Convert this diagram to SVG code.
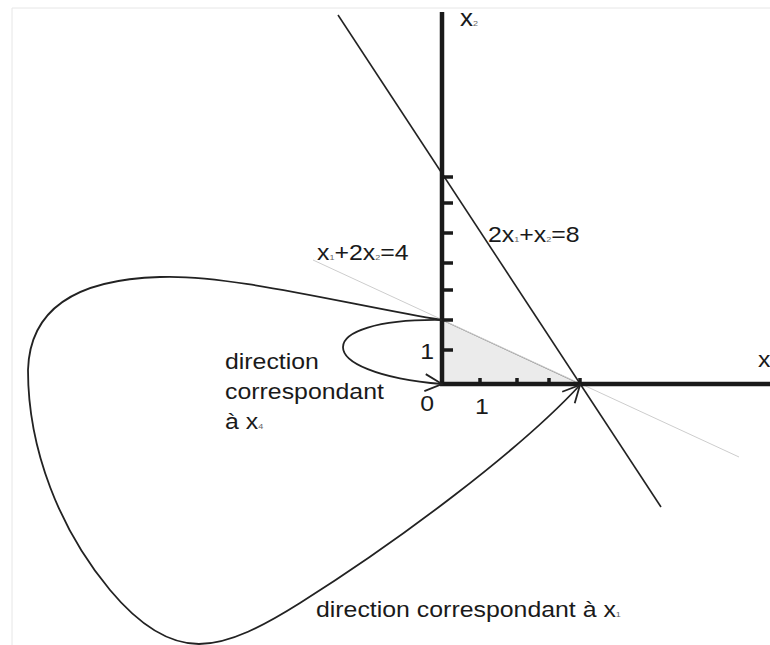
<svg xmlns="http://www.w3.org/2000/svg" width="770" height="645" viewBox="0 0 770 645">
<style>
.t{font-family:"Liberation Sans",Arial,sans-serif;font-size:22px;fill:#1a1a1a}
.s{font-size:8px;fill:#666}
.axis{stroke:#1a1a1a;stroke-width:4.5;fill:none}
.tick{stroke:#1a1a1a;stroke-width:3.5;fill:none}
.curve{fill:none;stroke:#222;stroke-width:1.8}
.cons{fill:none;stroke:#222;stroke-width:1.6}
.thin{fill:none;stroke:#cdcdcd;stroke-width:1}
</style>
<defs>
<marker id="arr" markerUnits="userSpaceOnUse" markerWidth="30" markerHeight="30" refX="0" refY="0" orient="auto" overflow="visible">
<path d="M-17,-8.5 L0,0 L-17,8.5" fill="none" stroke="#222" stroke-width="1.8"/>
</marker>
</defs>
<rect width="770" height="645" fill="#fff"/>
<path d="M12,645 V8 H770" fill="none" stroke="#e6e6e6" stroke-width="1"/>

<g id="feasible-region">
<polygon points="442,320 580,384 442,384" fill="#ebebeb"/>
<line x1="442" y1="320" x2="580" y2="384" stroke="#8a8a8a" stroke-width="1"/>
</g>

<g id="constraint-lines">
<line class="thin" x1="313" y1="260" x2="739" y2="457"/>
<line class="cons" x1="338" y1="15" x2="661" y2="507"/>
</g>

<g id="axes">
<line class="axis" x1="442" y1="12" x2="442" y2="386"/>
<line class="axis" x1="440" y1="384" x2="770" y2="384"/>
<path class="tick" d="M442,350 H453 M442,320 H453 M442,290 H453 M442,263 H453 M442,233 H453 M442,203 H453 M442,177 H453"/>
<path class="tick" d="M480,384 V378 M517,384 V378 M549,384 V378 M580,384 V378"/>
</g>

<g id="connectors">
<path class="curve" d="M442,320 C310,318 310,373 442,384" marker-end="url(#arr)"/>
<path class="curve" d="M442,320 C350,305 230,274 160,277 C90,279 30,300 28,370 C28,450 60,530 110,590 C140,626 170,644 199,644 C230,644 265,625 300,603 C400,540 520,450 580,385" marker-end="url(#arr)"/>
</g>

<g id="labels">
<text class="t" transform="translate(460 26) scale(1.13 1)" style="font-size:23px">x<tspan class="s">2</tspan></text>
<text class="t" transform="translate(758 367) scale(1.13 1)">x</text>
<text class="t" transform="translate(434 359) scale(1.13 1)" text-anchor="end">1</text>
<text class="t" transform="translate(434 411) scale(1.13 1)" text-anchor="end">0</text>
<text class="t" transform="translate(475 414) scale(1.13 1)">1</text>
<text class="t" transform="translate(317 260) scale(1.13 1)">x<tspan class="s">1</tspan>+2x<tspan class="s">2</tspan>=4</text>
<text class="t" transform="translate(488 242) scale(1.13 1)">2x<tspan class="s">1</tspan>+x<tspan class="s">2</tspan>=8</text>
<text class="t" transform="translate(225 369) scale(1.13 1)">direction</text>
<text class="t" transform="translate(225 399) scale(1.13 1)">correspondant</text>
<text class="t" transform="translate(225 429) scale(1.13 1)">à x<tspan class="s">4</tspan></text>
<text class="t" transform="translate(316 617) scale(1.13 1)">direction correspondant à x<tspan class="s">1</tspan></text>
</g>
</svg>
